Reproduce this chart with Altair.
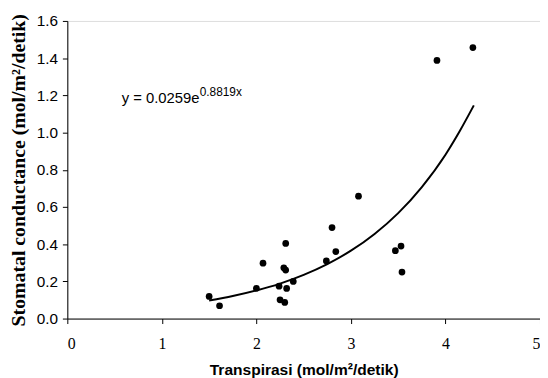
import altair as alt
import pandas as pd

# Observed points (Transpirasi, Stomatal conductance)
transpirasi = [1.50, 1.61, 2.00, 2.07, 2.24, 2.25, 2.29, 2.30, 2.31, 2.31, 2.32, 2.39,
               2.74, 2.80, 2.84, 3.08, 3.47, 3.53, 3.54, 3.91, 4.29]
conductance = [0.119, 0.069, 0.163, 0.298, 0.174, 0.101, 0.273, 0.087, 0.404, 0.261, 0.162, 0.200,
               0.310, 0.489, 0.360, 0.658, 0.365, 0.390, 0.250, 1.388, 1.457]

# Trendline
curve_x = [1.5, 1.75, 2.0, 2.25, 2.5, 2.75, 3.0, 3.25, 3.5, 3.75, 4.0, 4.15, 4.3]
curve_y = [0.097, 0.121, 0.151, 0.188, 0.235, 0.293, 0.365, 0.455, 0.567, 0.707, 0.881, 1.007, 1.146]

# Axis tick labels
x_ticks = [0, 1, 2, 3, 4, 5]
y_ticks = [0.0, 0.2, 0.4, 0.6, 0.8, 1.0, 1.2, 1.4, 1.6]

# Equation annotation
eq_text = ["y = 0.0259e", "0.8819x"]
eq_x = [0.575, 1.40]
eq_y = [1.16, 1.197]
eq_size = [15, 12]

pts = pd.DataFrame({"x": transpirasi, "y": conductance})
crv = pd.DataFrame({"x": curve_x, "y": curve_y})
eq = pd.DataFrame({"t": eq_text, "x": eq_x, "y": eq_y, "s": eq_size})

xscale = alt.Scale(domain=[0, 5], nice=False, zero=True)
yscale = alt.Scale(domain=[0, 1.6], nice=False)

xaxis = alt.Axis(title="Transpirasi (mol/m²/detik)", values=x_ticks, format="d",
                 grid=False, labelFont="Liberation Serif", labelFontSize=16, labelColor="black",
                 labelPadding=12, tickSize=5, tickColor="black", domainColor="black",
                 labelOverlap=False,
                 titleFont="Liberation Sans", titleFontSize=15.7, titleFontWeight="bold",
                 titleColor="black", titlePadding=12)
yaxis = alt.Axis(title="Stomatal conductance (mol/m²/detik)", values=y_ticks,
                 format=".1f", grid=False, labelFont="Liberation Sans", labelFontSize=15.5,
                 labelColor="black", labelPadding=5, tickSize=5, tickColor="black",
                 labelOverlap=False,
                 domainColor="black", titleFont="Liberation Serif", titleFontSize=20,
                 titleFontWeight="bold", titleColor="black", titlePadding=8)

X = alt.X("x:Q", scale=xscale, axis=xaxis)
Y = alt.Y("y:Q", scale=yscale, axis=yaxis)

points = alt.Chart(pts).mark_circle(size=46, color="black", opacity=1).encode(x=X, y=Y)

line = alt.Chart(crv).mark_line(color="black", strokeWidth=2, interpolate="monotone").encode(x=X, y=Y)

text = alt.Chart(eq).mark_text(align="left", baseline="alphabetic", font="Liberation Sans",
                               color="black").encode(
    x=X, y=Y,
    text="t:N",
    size=alt.Size("s:Q", scale=None, legend=None),
)

chart = alt.layer(line, points, text).properties(
    width=478, height=301,
    autosize=alt.AutoSizeParams(type="none"),
    padding={"left": 60, "top": 11, "right": 0, "bottom": 58},
).configure_view(stroke="black", strokeWidth=1.5).configure(background="white")

chart.save("out.html", embed_options={"renderer": "svg", "actions": False})
